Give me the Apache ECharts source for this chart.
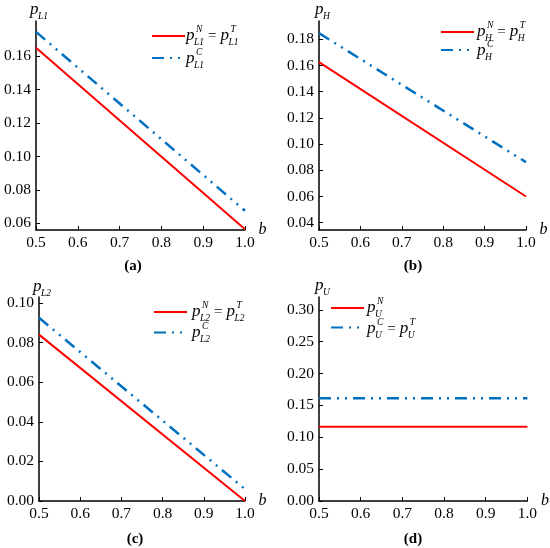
<!DOCTYPE html>
<html>
<head>
<meta charset="utf-8">
<script src="https://cdn.jsdelivr.net/npm/echarts@6/dist/echarts.min.js"></script>
<style>
  html, body { margin: 0; padding: 0; background: #fff; }
  #chart { width: 550px; height: 548px; }
</style>
</head>
<body>
<div id="chart"></div>
<script>
// b values (x) and tick labels
var bValues = [0.5, 1.0];
var xTicks = [0.5, 0.6, 0.7, 0.8, 0.9, 1.0];

// (a) p_L1
var pL1NT = [0.165, 0.0565];
var pL1C = [0.1745, 0.0675];
var ticksA = [0.06, 0.08, 0.10, 0.12, 0.14, 0.16];
// (b) p_H
var pHNT = [0.1626, 0.0600];
var pHC = [0.1847, 0.0862];
var ticksB = [0.04, 0.06, 0.08, 0.10, 0.12, 0.14, 0.16, 0.18];
// (c) p_L2
var pL2NT = [0.084, 0.0];
var pL2C = [0.0925, 0.006];
var ticksC = [0.00, 0.02, 0.04, 0.06, 0.08, 0.10];
// (d) p_U
var pUN = [0.1165, 0.1165];
var pUCT = [0.161, 0.161];
var ticksD = [0.00, 0.05, 0.10, 0.15, 0.20, 0.25, 0.30];

var RED = '#ff0000';
var BLUE = '#0070c0';
var FONT = 'Liberation Serif';
var DASHDOT = [12, 6, 2, 6, 2, 6];

var chart = echarts.init(document.getElementById('chart'));

function pairs(ys) {
    return bValues.map(function(b, i) { return [b, ys[i]]; });
}

var grids = [
    { left: 36, top: 21, width: 209, height: 209 },
    { left: 319, top: 21, width: 207, height: 209 },
    { left: 39, top: 297, width: 206, height: 204 },
    { left: 319, top: 297, width: 209, height: 204 }
];

var yRanges = [
    { min: 0.056, max: 0.181, ticks: ticksA },
    { min: 0.0344, max: 0.194, ticks: ticksB },
    { min: 0, max: 0.103, ticks: ticksC },
    { min: 0, max: 0.32, ticks: ticksD }
];

var axisLineStyle = { color: '#000', width: 1.5 };
var labelStyle = { color: '#000', fontFamily: FONT, fontSize: 15.5 };

var xAxes = grids.map(function(g, i) {
    return {
        type: 'value', gridIndex: i, min: 0.5, max: 1.0,
        name: 'b', nameLocation: 'end', nameGap: 0,
        nameTextStyle: { color: '#000', fontFamily: FONT, fontSize: 16, fontStyle: 'italic', padding: [0, 0, 4, 0] },
        axisLine: { show: true, lineStyle: axisLineStyle },
        axisTick: { show: true, inside: true, length: 4, customValues: xTicks, lineStyle: { color: '#000' } },
        axisLabel: Object.assign({ margin: 5, customValues: xTicks, formatter: function(v) { return v.toFixed(1); } }, labelStyle),
        splitLine: { show: false }
    };
});

var yAxes = yRanges.map(function(r, i) {
    return {
        type: 'value', gridIndex: i, min: r.min, max: r.max,
        axisLine: { show: true, lineStyle: axisLineStyle },
        axisTick: { show: true, inside: true, length: 4, customValues: r.ticks, lineStyle: { color: '#000' } },
        axisLabel: Object.assign({ margin: 5, customValues: r.ticks, formatter: function(v) { return v.toFixed(2); } }, labelStyle),
        splitLine: { show: false }
    };
});

function lineSeries(name, idx, ys, color, dashed) {
    return {
        name: name, type: 'line', xAxisIndex: idx, yAxisIndex: idx,
        data: pairs(ys), symbol: 'none', silent: true,
        lineStyle: { color: color, width: dashed ? 2.5 : 2, type: dashed ? DASHDOT : 'solid' },
        itemStyle: { color: color }
    };
}

var series = [
    lineSeries('aN', 0, pL1NT, RED, false),
    lineSeries('aC', 0, pL1C, BLUE, true),
    lineSeries('bN', 1, pHNT, RED, false),
    lineSeries('bC', 1, pHC, BLUE, true),
    lineSeries('cN', 2, pL2NT, RED, false),
    lineSeries('cC', 2, pL2C, BLUE, true),
    lineSeries('dN', 3, pUN, RED, false),
    lineSeries('dC', 3, pUCT, BLUE, true)
];

function legendAt(names, left, top, gap) {
    return {
        data: names, orient: 'vertical', left: left, top: top, padding: 0,
        itemWidth: 33, itemHeight: 10, itemGap: gap,
        selectedMode: false, formatter: function() { return ''; },
        itemStyle: { color: 'rgba(0,0,0,0)', borderWidth: 0 },
        textStyle: { fontSize: 1 }
    };
}

var legends = [
    legendAt(['aN', 'aC'], 151, 31, 13),
    legendAt(['bN', 'bC'], 440, 27, 9),
    legendAt(['cN', 'cC'], 153, 307, 11.5),
    legendAt(['dN', 'dC'], 330, 303, 10.5)
];

// math-style labels (p with superscript / subscript)
var measureCtx = document.createElement('canvas').getContext('2d');
function textWidth(str, size, italic) {
    measureCtx.font = (italic ? 'italic ' : '') + size + 'px "' + FONT + '"';
    return measureCtx.measureText(str).width;
}

function mathLabel(x, y, pieces) {
    var children = [];
    var cx = 0;
    pieces.forEach(function(pc) {
        if (pc === '=') {
            cx += 4;
            children.push({ type: 'text', x: cx, y: 0.5, style: { text: '=', fontFamily: FONT, fontSize: 15, fill: '#000', verticalAlign: 'middle' } });
            cx += textWidth('=', 15, false) + 4;
            return;
        }
        children.push({ type: 'text', x: cx, y: -0.5, style: { text: 'p', fontFamily: FONT, fontSize: 17, fontStyle: 'italic', fill: '#000', verticalAlign: 'middle' } });
        var sx = cx + textWidth('p', 17, true);
        var w = 0;
        if (pc.sup) {
            children.push({ type: 'text', x: sx + 1.5, y: -6.5, style: { text: pc.sup, fontFamily: FONT, fontSize: 9.5, fontStyle: 'italic', fill: '#000', verticalAlign: 'middle' } });
            w = Math.max(w, textWidth(pc.sup, 9.5, true) + 1.5);
        }
        if (pc.sub) {
            children.push({ type: 'text', x: sx - 0.5, y: 6, style: { text: pc.sub, fontFamily: FONT, fontSize: 9.5, fontStyle: 'italic', fill: '#000', verticalAlign: 'middle' } });
            w = Math.max(w, textWidth(pc.sub, 9.5, true) - 0.5);
        }
        cx = sx + w;
    });
    return { type: 'group', x: x, y: y, silent: true, children: children };
}

var graphics = [
    // axis names
    mathLabel(30, 10, [{ sub: 'L1' }]),
    mathLabel(315, 10, [{ sub: 'H' }]),
    mathLabel(33, 287, [{ sub: 'L2' }]),
    mathLabel(315, 286, [{ sub: 'U' }]),
    // legend texts
    mathLabel(186, 36, [{ sup: 'N', sub: 'L1' }, '=', { sup: 'T', sub: 'L1' }]),
    mathLabel(186, 59, [{ sup: 'C', sub: 'L1' }]),
    mathLabel(477, 32, [{ sup: 'N', sub: 'H' }, '=', { sup: 'T', sub: 'H' }]),
    mathLabel(477, 51, [{ sup: 'C', sub: 'H' }]),
    mathLabel(192, 312, [{ sup: 'N', sub: 'L2' }, '=', { sup: 'T', sub: 'L2' }]),
    mathLabel(192, 333, [{ sup: 'C', sub: 'L2' }]),
    mathLabel(367, 308, [{ sup: 'N', sub: 'U' }]),
    mathLabel(367, 329, [{ sup: 'C', sub: 'U' }, '=', { sup: 'T', sub: 'U' }])
];

function caption(letter, x, y) {
    return {
        text: '{n|(}{b|' + letter + '}{n|)}', left: x, top: y, textAlign: 'center',
        textStyle: {
            rich: {
                n: { fontFamily: FONT, fontSize: 15, color: '#000' },
                b: { fontFamily: FONT, fontSize: 15, fontWeight: 'bold', color: '#000' }
            }
        }
    };
}

var option = {
    backgroundColor: '#fff',
    animation: false,
    title: [caption('a', 128, 254), caption('b', 408, 254), caption('c', 130, 527), caption('d', 408, 527)],
    grid: grids,
    xAxis: xAxes,
    yAxis: yAxes,
    legend: legends,
    series: series,
    graphic: graphics
};

chart.setOption(option);
</script>
</body>
</html>
